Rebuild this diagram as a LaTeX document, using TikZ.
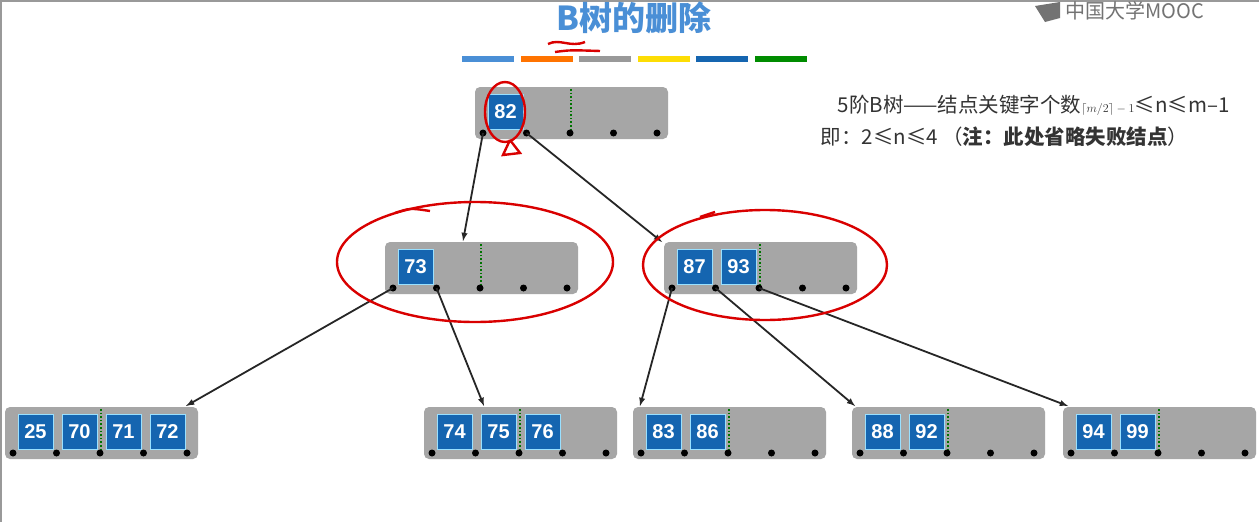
\documentclass[tikz,border=0pt]{standalone}
\usepackage{fontspec}
\setmainfont{Liberation Sans}
\newfontfamily\cjk{Noto Sans CJK SC}
\definecolor{keyblue}{HTML}{1565B0}
\definecolor{titleblue}{HTML}{4A8FD6}
\begin{document}
\begin{tikzpicture}[x=1pt,y=-1pt,
  box/.style={fill=black!35,rounded corners=5pt},
  keybox/.style={fill=keyblue,draw=blue!30!cyan!40,line width=0.8pt,minimum width=35pt,minimum height=35pt,inner sep=0pt,text=white,font=\fontsize{20}{20}\selectfont\bfseries},
  ptr/.style={fill=black,circle,inner sep=0pt,minimum size=7pt},
  sep/.style={draw=green!45!black,dotted,line width=1.6pt},
  link/.style={-latex,line width=1.8pt,black!85},
  ink/.style={red!85!black,line width=2.4pt}]
\useasboundingbox (0,0) rectangle (1259,522);
\fill[white] (0,0) rectangle (1259,522);
\draw[black!40,line width=1.5pt] (1,522) -- (1,1) -- (1259,1);
\newcommand{\bnode}[4]{%
  \fill[box] (#2,#3) rectangle ++(193,52);
  \draw[sep] (#2+96,#3+2) -- (#2+96,#3+46);
  \foreach \k [count=\i from 0] in {#4} {
    \node[keybox] (#1k\i) at (#2+30.5+44*\i,#3+24.5) {\k};
  }
  \foreach \i in {0,...,4} {
    \node[ptr] (#1p\i) at (#2+8+43.5*\i,#3+46) {};
  }
}
\bnode{r}{475}{87}{82}
\bnode{a}{385}{242}{73}
\bnode{b}{664}{242}{87,93}
\bnode{c}{5}{407}{25,70,71,72}
\bnode{d}{424}{407}{74,75,76}
\bnode{e}{633}{407}{83,86}
\bnode{f}{852}{407}{88,92}
\bnode{g}{1063}{407}{94,99}
\coordinate (at) at (463,241);
\coordinate (bt) at (662,242);
\coordinate (ct) at (186,406);
\coordinate (dt) at (484,406);
\coordinate (et) at (640,406);
\coordinate (ft) at (855,406);
\coordinate (gt) at (1068,406);
\draw[link] (rp0.center) -- (at);
\draw[link] (rp1.center) -- (bt);
\draw[link] (ap0.center) -- (ct);
\draw[link] (ap1.center) -- (dt);
\draw[link] (bp0.center) -- (et);
\draw[link] (bp1.center) -- (ft);
\draw[link] (bp2.center) -- (gt);
% title
\node[font=\cjk\bfseries\fontsize{33}{33}\selectfont,text=titleblue] (title) at (634,18) {B树的删除};
\foreach \c [count=\i from 0] in {{titleblue},{orange!90!red},{black!40},{yellow!80!orange},{keyblue},{green!55!black}}
  \fill[\c] (462+58.5*\i,56) rectangle ++(52,6);
\fill[black!55] (1035,6) -- (1060,2) -- (1060,18) -- (1045,22) -- cycle;
\node[font=\cjk\fontsize{20}{20}\selectfont,text=black!55,anchor=west] (logo) at (1062,11) {中国大学MOOC};
% notes
\node[font=\cjk\fontsize{20.5}{20.5}\selectfont,text=black!80,anchor=east] (n1) at (1233,105) {5阶B树——结点关键字个数{\large$\lceil m/2\rceil-1$}≤n≤m–1};
\node[font=\cjk\fontsize{20.5}{20.5}\selectfont,text=black!80,anchor=east] (n2) at (1192,137) {即：2≤n≤4 （\textbf{注：此处省略失败结点}）};
% red annotations
\draw[ink] (505,112) ellipse (20 and 30);
\draw[ink] (510,140) -- (503,155) -- (520,153) -- (510,140);
\draw[ink] (548,44) .. controls (560,38) and (570,48) .. (585,42);
\draw[ink] (555,52) .. controls (570,50) .. (600,51);
\draw[ink] (395,213) .. controls (410,208) .. (430,211);
\draw[ink] (475,262) ellipse (138 and 60);
\draw[ink] (700,217) -- (715,212);
\draw[ink] (765,265) ellipse (122 and 55);
\end{tikzpicture}
\end{document}
